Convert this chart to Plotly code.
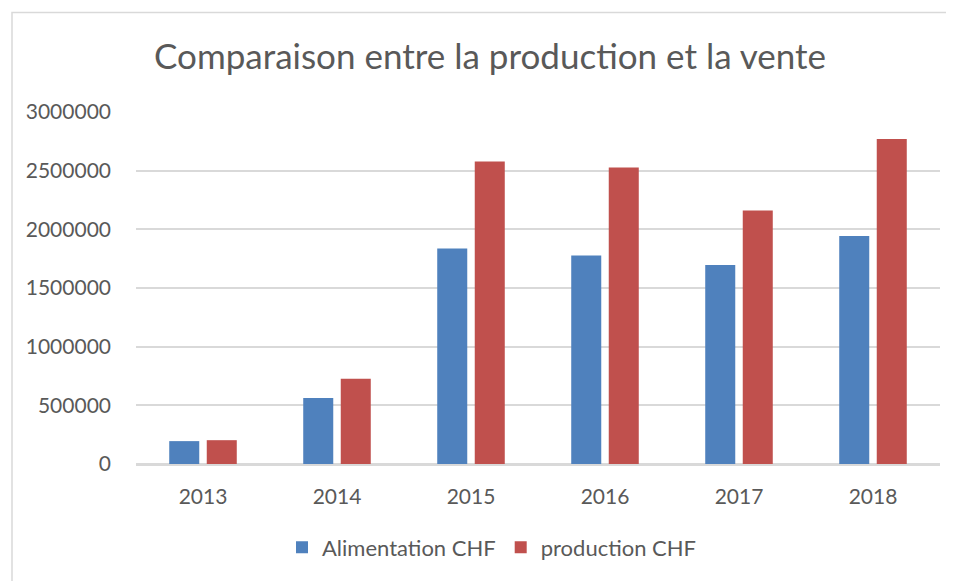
import plotly.graph_objects as go

years = ["2013", "2014", "2015", "2016", "2017", "2018"]
alimentation = [195000, 562000, 1836000, 1777000, 1695000, 1943000]
production = [203000, 726000, 2579000, 2528000, 2161000, 2769000]
y_ticks = [0, 500000, 1000000, 1500000, 2000000, 2500000, 3000000]

# the page body has an 8px margin; figure is sized to fit the 954x581 window
OFF = 8
W, H = 954 - OFF, 581 - OFF
ML, MR, MT, MB = 136 - OFF, 14, 112 - OFF, 115
PW = W - ML - MR
PH = H - MT - MB

def px_x(x):
    return (x - OFF - ML) / PW

def px_y(y):
    return (H - MB - (y - OFF)) / PH

FONT = "Lato"
TXT = "#595959"
GRID = "#D9D9D9"

fig = go.Figure()
fig.add_trace(go.Bar(x=years, y=alimentation, name="Alimentation CHF",
                     marker=dict(color="#4F81BD", line=dict(width=0))))
fig.add_trace(go.Bar(x=years, y=production, name="production CHF",
                     marker=dict(color="#C0504D", line=dict(width=0))))

fig.update_layout(
    width=W, height=H,
    margin=dict(l=ML, r=MR, t=MT, b=MB),
    paper_bgcolor="white", plot_bgcolor="white",
    barmode="group", bargap=0.44, bargroupgap=0.2,
    font=dict(family=FONT, color=TXT, size=21),
    title=dict(text="Comparaison entre la production et la vente",
               x=(490 - OFF) / W, xref="container", xanchor="center",
               y=1 - (57 - OFF) / H, yref="container", yanchor="middle",
               font=dict(family=FONT, size=35, color=TXT)),
    legend=dict(orientation="h", x=px_x(492), xanchor="center",
                y=px_y(550), yanchor="middle",
                font=dict(family=FONT, size=22, color=TXT),
                itemwidth=30, tracegroupgap=0),
    showlegend=True,
)
fig.update_xaxes(type="category", showgrid=False, showline=True, linecolor=GRID,
                 linewidth=1.5, ticks="", tickfont=dict(size=21, color=TXT),
                 ticklabelstandoff=13)
fig.update_yaxes(range=[0, 3000000], tickvals=y_ticks,
                 ticktext=[str(v) for v in y_ticks],
                 showgrid=True, gridcolor=GRID, gridwidth=1.5,
                 zeroline=True, zerolinecolor=GRID, zerolinewidth=1.5,
                 showline=False, ticks="", tickfont=dict(size=21, color=TXT),
                 ticklabelstandoff=24)

# outer chart frame: a rectangle whose right and bottom edges fall outside the picture
fig.add_shape(type="rect", xref="paper", yref="paper",
              x0=px_x(12), x1=px_x(1000), y0=px_y(640), y1=px_y(12),
              line=dict(color=GRID, width=1.5), fillcolor="rgba(0,0,0,0)",
              layer="below")

fig.write_html("out.html", config={"displayModeBar": False})
